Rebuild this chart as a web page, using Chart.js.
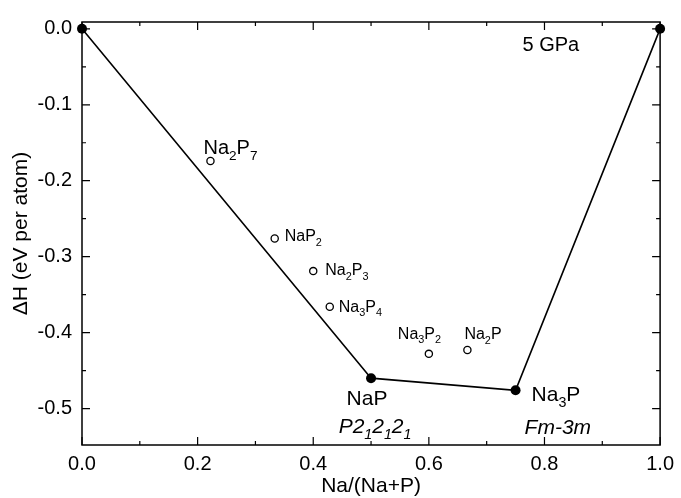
<!DOCTYPE html>
<html><head><meta charset="utf-8">
<script src="https://cdn.jsdelivr.net/npm/chart.js@4/dist/chart.umd.min.js"></script>
<style>html,body{margin:0;padding:0;background:#fff}</style>
</head><body>
<canvas id="c" width="681" height="498"></canvas>
<script>
// ---- data ----
const hullX = [0, 0.5, 0.75, 1];
const hullY = [0, -0.460, -0.476, 0];
const hullNames = ['', 'NaP', 'Na3P', ''];
const hullGroups = ['', 'P2_12_12_1', 'Fm-3m', ''];
const metaX = [2/9, 1/3, 0.4, 3/7, 0.6, 2/3];
const metaY = [-0.174, -0.276, -0.319, -0.366, -0.428, -0.423];
const metaNames = ['Na2P7', 'NaP2', 'Na2P3', 'Na3P4', 'Na3P2', 'Na2P'];
const xTicks = [0, 0.2, 0.4, 0.6, 0.8, 1.0];
const yTicks = [0, -0.1, -0.2, -0.3, -0.4, -0.5];
const xMinor = [0.1, 0.3, 0.5, 0.7, 0.9];
const yMinor = [-0.05, -0.15, -0.25, -0.35, -0.45];
const pressureLabel = '5 GPa';
const xTitle = 'Na/(Na+P)';
const yTitle = '\u0394H (eV per atom)';

// ---- label styles (offsets in px relative to the marker) ----
const metaLabelStyle = [
  {dx: -7, dy: -7, size: 20},
  {dx: 10, dy: 3, size: 16},
  {dx: 12, dy: 4, size: 16},
  {dx: 9, dy: 5, size: 16},
  {dx: -31, dy: -15, size: 16},
  {dx: -3, dy: -11, size: 16}
];
const hullLabelStyle = [
  null,
  {name: {dx: -4, dy: 27, align: 'center'}, group: {dx: 4, dy: 55, align: 'center'}},
  {name: {dx: 16, dy: 11, align: 'left'}, group: {dx: 9, dy: 44, align: 'left'}},
  null
];
const FONT = '"Liberation Sans", Arial, sans-serif';

function parseCompound(t) {
  const segs = [];
  t.replace(/(\d+)|([^\d]+)/g, (m, d, s) => { segs.push(d ? [d, 1] : [s, 0]); });
  return segs;
}
function parseGroup(t) {
  const segs = [];
  for (let i = 0; i < t.length; i++) {
    if (t[i] === '_') { segs.push([t[i + 1], 1]); i++; }
    else segs.push([t[i], 0]);
  }
  return segs;
}
function drawRich(ctx, segs, x, y, size, italic, align) {
  const st = italic ? 'italic ' : '';
  const subSize = size * 0.68;
  let w = 0;
  segs.forEach(s => {
    ctx.font = st + (s[1] ? subSize : size) + 'px ' + FONT;
    w += ctx.measureText(s[0]).width;
  });
  let cx = align === 'center' ? x - w / 2 : x;
  ctx.textAlign = 'left';
  ctx.textBaseline = 'alphabetic';
  ctx.fillStyle = '#000';
  segs.forEach(s => {
    ctx.font = st + (s[1] ? subSize : size) + 'px ' + FONT;
    ctx.fillText(s[0], cx, y + (s[1] ? size * 0.28 : 0));
    cx += ctx.measureText(s[0]).width;
  });
}

const framePlugin = {
  id: 'frame',
  beforeDatasetsDraw(chart) {
    const {ctx, chartArea: a, scales} = chart;
    ctx.save();
    ctx.strokeStyle = '#000';
    ctx.lineWidth = 1.5;
    ctx.strokeRect(a.left, a.top, a.right - a.left, a.bottom - a.top);
    ctx.lineWidth = 1.2;
    ctx.beginPath();
    const tx = (v, L) => {
      const p = scales.x.getPixelForValue(v);
      ctx.moveTo(p, a.bottom); ctx.lineTo(p, a.bottom - L);
      ctx.moveTo(p, a.top); ctx.lineTo(p, a.top + L);
    };
    const ty = (v, L) => {
      const p = scales.y.getPixelForValue(v);
      ctx.moveTo(a.left, p); ctx.lineTo(a.left + L, p);
      ctx.moveTo(a.right, p); ctx.lineTo(a.right - L, p);
    };
    xTicks.forEach(v => tx(v, 8));
    xMinor.forEach(v => tx(v, 4));
    yTicks.forEach(v => ty(v, 8));
    yMinor.forEach(v => ty(v, 4));
    ctx.stroke();
    ctx.restore();
  },
  afterDatasetsDraw(chart) {
    const {ctx, scales} = chart;
    ctx.save();
    metaNames.forEach((n, i) => {
      const px = scales.x.getPixelForValue(metaX[i]);
      const py = scales.y.getPixelForValue(metaY[i]);
      const s = metaLabelStyle[i];
      drawRich(ctx, parseCompound(n), px + s.dx, py + s.dy, s.size, false, 'left');
    });
    hullNames.forEach((n, i) => {
      const s = hullLabelStyle[i];
      if (!s) return;
      const px = scales.x.getPixelForValue(hullX[i]);
      const py = scales.y.getPixelForValue(hullY[i]);
      drawRich(ctx, parseCompound(n), px + s.name.dx, py + s.name.dy, 21, false, s.name.align);
      drawRich(ctx, parseGroup(hullGroups[i]), px + s.group.dx, py + s.group.dy, 21, true, s.group.align);
    });
    ctx.font = '20px ' + FONT;
    ctx.fillStyle = '#000';
    ctx.textAlign = 'right';
    ctx.textBaseline = 'middle';
    ctx.fillText(pressureLabel, scales.x.getPixelForValue(0.86), scales.y.getPixelForValue(-0.022));
    ctx.restore();
  }
};

new Chart(document.getElementById('c'), {
  type: 'scatter',
  data: {
    datasets: [
      {
        data: hullX.map((x, i) => ({x, y: hullY[i]})),
        showLine: true,
        borderColor: '#000',
        borderWidth: 1.6,
        pointRadius: 5,
        pointBackgroundColor: '#000',
        pointBorderWidth: 0,
        clip: false
      },
      {
        data: metaX.map((x, i) => ({x, y: metaY[i]})),
        pointRadius: 3.6,
        pointBackgroundColor: '#fff',
        pointBorderColor: '#000',
        pointBorderWidth: 1.3
      }
    ]
  },
  options: {
    responsive: false,
    animation: false,
    devicePixelRatio: 1,
    layout: {padding: {top: 15, right: 18, left: 0, bottom: 0}},
    plugins: {legend: {display: false}, tooltip: {enabled: false}},
    scales: {
      x: {
        type: 'linear', position: 'bottom', min: 0, max: 1,
        grid: {display: false, drawTicks: false},
        border: {display: false},
        afterBuildTicks: s => { s.ticks = xTicks.map(v => ({value: v})); },
        afterFit: s => { s.height = 53; },
        ticks: {color: '#000', font: {size: 20, family: FONT}, padding: 7, callback: v => v.toFixed(1)},
        title: {display: true, text: xTitle, color: '#000', font: {size: 21, family: FONT}, padding: {top: 0, bottom: -1}}
      },
      y: {
        type: 'linear', min: -0.548, max: 0.009,
        grid: {display: false, drawTicks: false},
        border: {display: false},
        afterBuildTicks: s => { s.ticks = yTicks.map(v => ({value: v})); },
        afterFit: s => { s.width = 82; },
        ticks: {color: '#000', font: {size: 20, family: FONT}, padding: 10, callback: v => v.toFixed(1)},
        title: {display: true, text: yTitle, color: '#000', font: {size: 21, family: FONT}, padding: {top: 9, bottom: 0}}
      }
    }
  },
  plugins: [framePlugin]
});
</script>
</body></html>
